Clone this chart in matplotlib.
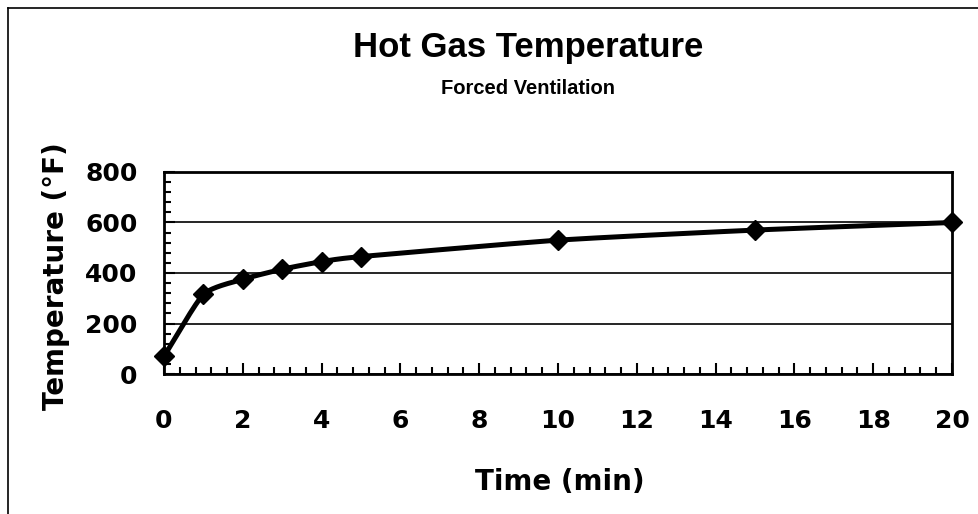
import numpy as np
import matplotlib
matplotlib.use("Agg")
import matplotlib.pyplot as plt
from matplotlib.lines import Line2D
from matplotlib.ticker import MultipleLocator

time_min = [0, 1, 2, 3, 4, 5, 10, 15, 20]
temp_f = [70, 315, 375, 415, 445, 465, 530, 570, 600]
x_ticks = [0, 2, 4, 6, 8, 10, 12, 14, 16, 18, 20]
y_ticks = [0, 200, 400, 600, 800]
title = "Hot Gas Temperature"
subtitle = "Forced Ventilation"
xlabel = "Time (min)"
ylabel = "Temperature (°F)"


def smooth_curve(x, y, n=30, tension=0.6):
    x = np.asarray(x, float)
    y = np.asarray(y, float)
    px = np.concatenate([[2 * x[0] - x[1]], x, [2 * x[-1] - x[-2]]])
    py = np.concatenate([[2 * y[0] - y[1]], y, [2 * y[-1] - y[-2]]])
    ox, oy = [], []
    for i in range(1, len(px) - 2):
        t = np.linspace(0, 1, n, endpoint=False)
        p0, p1, p2, p3 = (np.array([px[j], py[j]]) for j in (i - 1, i, i + 1, i + 2))
        m1 = (p2 - p0) / 2 * tension
        m2 = (p3 - p1) / 2 * tension
        h00 = 2 * t**3 - 3 * t**2 + 1
        h10 = t**3 - 2 * t**2 + t
        h01 = -2 * t**3 + 3 * t**2
        h11 = t**3 - t**2
        pts = (np.outer(h00, p1) + np.outer(h10, m1) + np.outer(h01, p2) + np.outer(h11, m2))
        ox.extend(pts[:, 0])
        oy.extend(pts[:, 1])
    ox.append(x[-1])
    oy.append(y[-1])
    return np.array(ox), np.array(oy)


plt.rcParams['font.family'] = ['DejaVu Sans']
plt.rcParams['font.weight'] = 'bold'

W, H = 979, 514
fig = plt.figure(figsize=(W / 100, H / 100), dpi=100)
ax_left, ax_right, ax_top, ax_bottom = 164, 952, 172, 374
ax = fig.add_axes([ax_left / W, 1 - ax_bottom / H, (ax_right - ax_left) / W, (ax_bottom - ax_top) / H])

sx, sy = smooth_curve(time_min, temp_f)
ax.plot(sx, sy, color='black', lw=3.6, solid_capstyle='round', zorder=3, clip_on=False)
ax.plot(time_min, temp_f, linestyle='none', marker='D', color='black', ms=10, zorder=4, clip_on=False)

ax.set_xlim(0, 20)
ax.set_ylim(0, 800)
ax.set_xticks(x_ticks)
ax.set_yticks(y_ticks)
ax.xaxis.set_minor_locator(MultipleLocator(0.4))
ax.yaxis.set_minor_locator(MultipleLocator(40))
ax.tick_params(which='major', direction='in', length=8, width=1.5, labelsize=18)
ax.tick_params(which='minor', direction='in', length=5, width=1.5)
ax.tick_params(axis='x', which='major', pad=25)
ax.tick_params(axis='y', which='major', pad=19)
for lab in ax.get_xticklabels() + ax.get_yticklabels():
    lab.set_fontweight('bold')

ax.grid(axis='y', which='major', color='black', lw=1.2)
for s in ax.spines.values():
    s.set_linewidth(2)
    s.set_color('black')

ax.set_xlabel(xlabel, fontsize=20, fontweight='bold')
ax.set_ylabel(ylabel, fontsize=20, fontweight='bold')
ax.xaxis.set_label_coords((560 - ax_left) / (ax_right - ax_left), (ax_bottom - 482) / (ax_bottom - ax_top))
ax.xaxis.label.set_va('center')
ax.yaxis.set_label_coords((56 - ax_left) / (ax_right - ax_left), (ax_bottom - 276) / (ax_bottom - ax_top))
ax.yaxis.label.set_va('center')

fig.text(528 / W, 1 - 47 / H, title, ha='center', va='center', fontsize=25,
         fontweight='bold', family=['Liberation Sans', 'DejaVu Sans'])
fig.text(528 / W, 1 - 88 / H, subtitle, ha='center', va='center', fontsize=14.5,
         fontweight='bold', family=['Liberation Sans', 'DejaVu Sans'])

fig.add_artist(Line2D([8 / W, 1.0], [1 - 8 / H, 1 - 8 / H], transform=fig.transFigure, color='black', lw=1.2))
fig.add_artist(Line2D([8 / W, 8 / W], [0, 1 - 8 / H], transform=fig.transFigure, color='black', lw=1.2))

fig.savefig('out.png', dpi=100)
